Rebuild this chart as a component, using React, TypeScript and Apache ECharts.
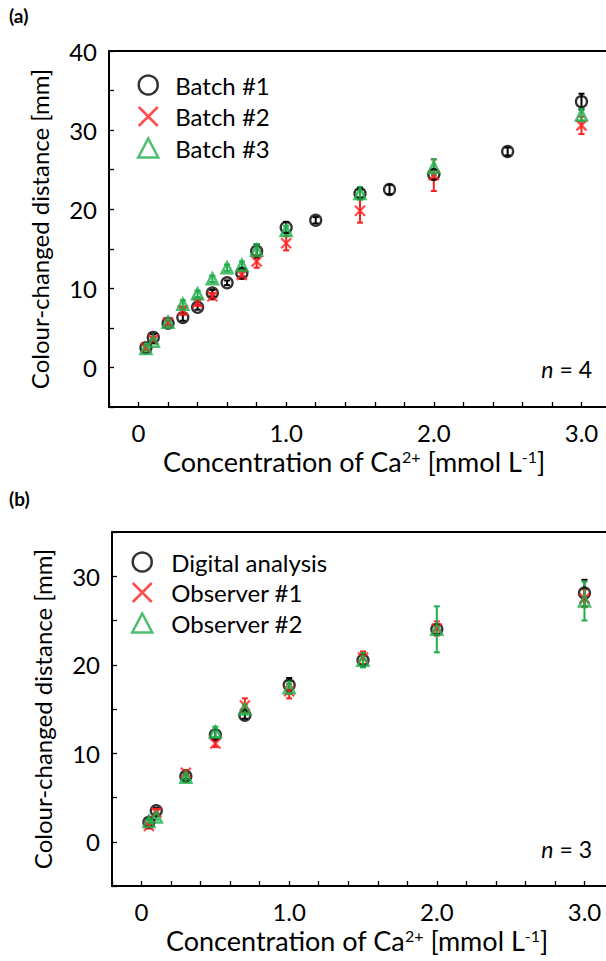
import React, { useEffect, useRef } from 'react';
import * as echarts from 'echarts';

// ---------- Panel (a) ----------
const a_batch1_x = [0.05, 0.1, 0.2, 0.3, 0.4, 0.5, 0.6, 0.7, 0.8, 1.0, 1.2, 1.5, 1.7, 2.0, 2.5, 3.0];
const a_batch1_y = [2.5, 3.8, 5.6, 6.3, 7.6, 9.4, 10.7, 11.9, 14.7, 17.7, 18.6, 22.0, 22.5, 24.4, 27.3, 33.6];
const a_batch1_e = [0.3, 0.4, 0.3, 0.4, 0.3, 0.4, 0.3, 0.4, 0.9, 0.7, 0.4, 0.5, 0.6, 0.6, 0.5, 1.0];

const a_batch2_x = [0.05, 0.1, 0.2, 0.3, 0.4, 0.5, 0.7, 0.8, 1.0, 1.5, 2.0, 3.0];
const a_batch2_y = [2.5, 3.5, 5.7, 7.2, 8.2, 9.0, 11.7, 13.4, 15.7, 19.8, 24.3, 30.6];
const a_batch2_e = [0.3, 0.4, 0.3, 0.5, 0.4, 0.4, 0.5, 0.8, 0.9, 1.5, 2.0, 1.1];

const a_batch3_x = [0.05, 0.1, 0.2, 0.3, 0.4, 0.5, 0.6, 0.7, 0.8, 1.0, 1.5, 2.0, 3.0];
const a_batch3_y = [2.4, 3.3, 5.7, 8.0, 9.3, 11.2, 12.6, 12.9, 14.8, 17.3, 22.0, 25.3, 31.9];
const a_batch3_e = [0.3, 0.3, 0.3, 0.5, 0.4, 0.4, 0.4, 0.5, 0.8, 0.6, 0.8, 1.0, 0.8];

// ---------- Panel (b) ----------
const b_x = [0.05, 0.1, 0.3, 0.5, 0.7, 1.0, 1.5, 2.0, 3.0];
const b_digital_y = [2.2, 3.5, 7.4, 12.1, 14.3, 17.7, 20.5, 24.0, 28.1];
const b_digital_e = [0.3, 0.3, 0.3, 0.5, 0.4, 0.8, 0.6, 0.5, 1.5];
const b_obs1_y = [1.8, 3.3, 7.8, 11.1, 15.4, 17.0, 20.8, 24.1, 27.5];
const b_obs1_e = [0.3, 0.4, 0.3, 0.4, 0.8, 0.8, 0.7, 0.8, 1.0];
const b_obs2_y = [2.3, 2.8, 7.3, 12.4, 15.0, 17.4, 20.5, 24.0, 27.2];
const b_obs2_e = [0.3, 0.3, 0.3, 0.6, 0.5, 0.7, 0.8, 2.6, 2.2];

// ---------- Axis ticks / labels ----------
const xMin = -0.2;
const xMax = 3.2;
const xInterval = 0.2;
const xLabelValues = [0, 1, 2, 3];
const xLabelTexts = ['0', '1.0', '2.0', '3.0'];
const aYMin = -5;
const aYMax = 40;
const bYMin = -5;
const bYMax = 35;
const yInterval = 5;
const yLabelStep = 10;

const legendA = ['Batch #1', 'Batch #2', 'Batch #3'];
const legendB = ['Digital analysis', 'Observer #1', 'Observer #2'];

const BLACK = '#000000';
const RED = '#ff1f1f';
const GREEN = '#1fae4b';
const FONT = 'Lato';
const X_PATH = 'path://M0,0L10,10M10,0L0,10';

function zip3(xs: number[], ys: number[], es: number[]) {
  return xs.map((x, i) => [x, ys[i], es[i]]);
}

function errSeries(data: number[][], color: string, axisIndex: number) {
  return {
    type: 'custom',
    xAxisIndex: axisIndex,
    yAxisIndex: axisIndex,
    silent: true,
    data,
    encode: { x: 0, y: 1 },
    renderItem: (_params: any, api: any) => {
      const x = api.value(0);
      const y = api.value(1);
      const e = api.value(2);
      const top = api.coord([x, y + e]);
      const bot = api.coord([x, y - e]);
      const cw = 3;
      const st = { stroke: color, lineWidth: 2 };
      return {
        type: 'group',
        children: [
          { type: 'line', shape: { x1: top[0], y1: top[1], x2: bot[0], y2: bot[1] }, style: st },
          { type: 'line', shape: { x1: top[0] - cw, y1: top[1], x2: top[0] + cw, y2: top[1] }, style: st },
          { type: 'line', shape: { x1: bot[0] - cw, y1: bot[1], x2: bot[0] + cw, y2: bot[1] }, style: st },
        ],
      };
    },
  };
}

function markerSeries(name: string, data: number[][], kind: string, axisIndex: number) {
  const base: any = {
    name,
    type: 'scatter',
    xAxisIndex: axisIndex,
    yAxisIndex: axisIndex,
    silent: true,
    emphasis: { disabled: true },
    data: data.map((d) => [d[0], d[1]]),
  };
  if (kind === 'circle') {
    base.symbol = 'circle';
    base.symbolSize = 11;
    base.itemStyle = { color: 'rgba(0,0,0,0)', borderColor: BLACK, borderWidth: 2.3 };
  } else if (kind === 'cross') {
    base.symbol = X_PATH;
    base.symbolSize = 10;
    base.itemStyle = { color: 'rgba(0,0,0,0)', borderColor: RED, borderWidth: 2.3 };
  } else {
    base.symbol = 'triangle';
    base.symbolSize = 11;
    base.itemStyle = { color: 'rgba(0,0,0,0)', borderColor: GREEN, borderWidth: 2.5 };
  }
  return base;
}

function xAxisCfg(gridIndex: number) {
  return {
    type: 'value',
    gridIndex,
    min: xMin,
    max: xMax,
    interval: xInterval,
    splitLine: { show: false },
    axisLine: { show: true, onZero: false, lineStyle: { color: BLACK, width: 2 } },
    axisTick: { show: true, inside: true, length: 5, lineStyle: { color: BLACK, width: 1.3 } },
    axisLabel: {
      color: BLACK,
      fontFamily: FONT,
      fontSize: 24,
      lineHeight: 24,
      margin: 13,
      showMinLabel: true,
      showMaxLabel: true,
      formatter: (v: number) => {
        for (let i = 0; i < xLabelValues.length; i++) {
          if (Math.abs(v - xLabelValues[i]) < 1e-6) return xLabelTexts[i];
        }
        return '';
      },
    },
    name: '{n|Concentration of Ca}{s|2+}{n| [mmol L}{s|-1}{n|]}',
    nameLocation: 'middle',
    nameGap: 41,
    nameTextStyle: {
      color: BLACK,
      fontFamily: FONT,
      fontSize: 27,
      padding: [0, 12, 0, 0],
      rich: {
        n: { color: BLACK, fontFamily: FONT, fontSize: 27, lineHeight: 26 },
        s: { color: BLACK, fontFamily: FONT, fontSize: 16, lineHeight: 14, verticalAlign: 'top' },
      },
    },
  };
}

function yAxisCfg(gridIndex: number, min: number, max: number) {
  return {
    type: 'value',
    gridIndex,
    min,
    max,
    interval: yInterval,
    splitLine: { show: false },
    axisLine: { show: true, onZero: false, lineStyle: { color: BLACK, width: 2 } },
    axisTick: { show: true, inside: true, length: 5, lineStyle: { color: BLACK, width: 1.3 } },
    axisLabel: {
      color: BLACK,
      fontFamily: FONT,
      fontSize: 24,
      margin: 12,
      showMinLabel: true,
      showMaxLabel: true,
      formatter: (v: number) => (Math.abs(v % yLabelStep) < 1e-6 ? String(Math.round(v)) : ''),
    },
    name: 'Colour-changed distance [mm]',
    nameLocation: 'middle',
    nameGap: 58,
    nameTextStyle: { color: BLACK, fontFamily: FONT, fontSize: 24 },
  };
}

function legendCfg(names: string[], left: number, top: number, gap: number, textPad: number) {
  const styles = [
    { icon: 'circle', itemStyle: { color: 'rgba(0,0,0,0)', borderColor: BLACK, borderWidth: 2.5 } },
    { icon: X_PATH, itemStyle: { color: 'rgba(0,0,0,0)', borderColor: RED, borderWidth: 2.5 } },
    { icon: 'triangle', itemStyle: { color: 'rgba(0,0,0,0)', borderColor: GREEN, borderWidth: 2.5 } },
  ];
  return {
    orient: 'vertical',
    left,
    top,
    padding: 0,
    itemWidth: 20,
    itemHeight: 19,
    itemGap: gap,
    selectedMode: false,
    textStyle: { color: BLACK, fontFamily: FONT, fontSize: 24, lineHeight: 24, padding: [0, 0, 0, textPad] },
    data: names.map((n, i) => ({ name: n, icon: styles[i].icon, itemStyle: styles[i].itemStyle })),
  };
}

export default function App() {
  const ref = useRef<HTMLDivElement>(null);

  useEffect(() => {
    if (!ref.current) return;
    const chart = echarts.init(ref.current, undefined, { renderer: 'svg' });
    const option: any = {
      animation: false,
      backgroundColor: '#ffffff',
      grid: [
        { left: 109, top: 51, width: 502, height: 356, show: true, borderColor: BLACK, borderWidth: 2, backgroundColor: 'rgba(0,0,0,0)' },
        { left: 112, top: 532, width: 502, height: 354, show: true, borderColor: BLACK, borderWidth: 2, backgroundColor: 'rgba(0,0,0,0)' },
      ],
      xAxis: [xAxisCfg(0), xAxisCfg(1)],
      yAxis: [yAxisCfg(0, aYMin, aYMax), yAxisCfg(1, bYMin, bYMax)],
      legend: [legendCfg(legendA, 137, 73, 7.5, 12), legendCfg(legendB, 131, 550, 6.5, 14)],
      graphic: [
        { type: 'text', left: 9, top: 6, style: { text: '(a)', fontFamily: FONT, fontWeight: 'bold', fontSize: 19, fill: BLACK } },
        { type: 'text', left: 9, top: 489, style: { text: '(b)', fontFamily: FONT, fontWeight: 'bold', fontSize: 19, fill: BLACK } },
        {
          type: 'text', right: 28, top: 357,
          style: {
            text: '{i|n}{r| = 4}',
            rich: {
              i: { fontFamily: FONT, fontStyle: 'italic', fontSize: 23, fill: BLACK },
              r: { fontFamily: FONT, fontSize: 23, fill: BLACK },
            },
          },
        },
        {
          type: 'text', right: 28, top: 837,
          style: {
            text: '{i|n}{r| = 3}',
            rich: {
              i: { fontFamily: FONT, fontStyle: 'italic', fontSize: 23, fill: BLACK },
              r: { fontFamily: FONT, fontSize: 23, fill: BLACK },
            },
          },
        },
      ],
      series: [
        errSeries(zip3(a_batch1_x, a_batch1_y, a_batch1_e), BLACK, 0),
        markerSeries(legendA[0], zip3(a_batch1_x, a_batch1_y, a_batch1_e), 'circle', 0),
        errSeries(zip3(a_batch2_x, a_batch2_y, a_batch2_e), RED, 0),
        markerSeries(legendA[1], zip3(a_batch2_x, a_batch2_y, a_batch2_e), 'cross', 0),
        errSeries(zip3(a_batch3_x, a_batch3_y, a_batch3_e), GREEN, 0),
        markerSeries(legendA[2], zip3(a_batch3_x, a_batch3_y, a_batch3_e), 'triangle', 0),
        errSeries(zip3(b_x, b_digital_y, b_digital_e), BLACK, 1),
        markerSeries(legendB[0], zip3(b_x, b_digital_y, b_digital_e), 'circle', 1),
        errSeries(zip3(b_x, b_obs1_y, b_obs1_e), RED, 1),
        markerSeries(legendB[1], zip3(b_x, b_obs1_y, b_obs1_e), 'cross', 1),
        errSeries(zip3(b_x, b_obs2_y, b_obs2_e), GREEN, 1),
        markerSeries(legendB[2], zip3(b_x, b_obs2_y, b_obs2_e), 'triangle', 1),
      ],
    };
    chart.setOption(option);
    return () => chart.dispose();
  }, []);

  return (
    <div style={{ position: 'fixed', left: 0, top: 0, width: 606, height: 961, overflow: 'hidden', background: '#fff' }}>
      <div ref={ref} style={{ width: 620, height: 961 }} />
    </div>
  );
}
